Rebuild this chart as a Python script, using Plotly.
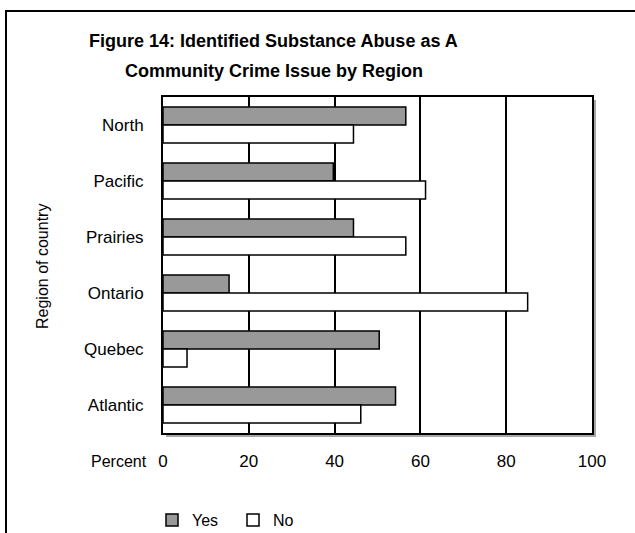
import plotly.graph_objects as go

# Survey results: share of respondents (percent) by region
regions = ["North", "Pacific", "Prairies", "Ontario", "Quebec", "Atlantic"]
yes_pct = [56.6, 39.7, 44.4, 15.4, 50.4, 54.2]
no_pct = [44.4, 61.2, 56.6, 85.0, 5.6, 46.1]
x_ticks = [0, 20, 40, 60, 80, 100]

title_lines = ["Figure 14: Identified Substance Abuse as A",
               "Community Crime Issue by Region"]

# Canvas and plot-area geometry (pixels)
W, H = 635, 533
L, R, T, B = 163, 43, 97, 100

FONT = "Liberation Sans, Arial, sans-serif"


def px_x(p):
    return (p - L) / (W - L - R)


def px_y(p):
    return (H - B - p) / (H - T - B)


fig = go.Figure()
fig.add_trace(go.Bar(
    name="Yes", y=regions, x=yes_pct, orientation="h",
    marker=dict(color="#999999", line=dict(color="black", width=1.5)),
))
fig.add_trace(go.Bar(
    name="No", y=regions, x=no_pct, orientation="h",
    marker=dict(color="white", line=dict(color="black", width=1.5)),
))

shapes = [
    # outer frame of the chart (top and left edges visible)
    dict(type="rect", xref="paper", yref="paper",
         x0=px_x(6), x1=px_x(720), y0=px_y(620), y1=px_y(11),
         line=dict(color="black", width=2), fillcolor="rgba(0,0,0,0)"),
    # drop shadow along the right and bottom edges of the plot area
    dict(type="rect", xref="paper", yref="paper", layer="below",
         x0=px_x(593), x1=px_x(596), y0=px_y(437), y1=px_y(100),
         line=dict(width=0), fillcolor="#a6a6a6"),
    dict(type="rect", xref="paper", yref="paper", layer="below",
         x0=px_x(166), x1=px_x(596), y0=px_y(437), y1=px_y(434),
         line=dict(width=0), fillcolor="#a6a6a6"),
]

annotations = [
    dict(text="<b>%s</b>" % title_lines[0], xref="paper", yref="paper",
         x=px_x(273.5), y=px_y(41), xanchor="center", yanchor="middle",
         showarrow=False, font=dict(family=FONT, size=18, color="black")),
    dict(text="<b>%s</b>" % title_lines[1], xref="paper", yref="paper",
         x=px_x(273.5), y=px_y(71), xanchor="center", yanchor="middle",
         showarrow=False, font=dict(family=FONT, size=18, color="black")),
    dict(text="Region of country", xref="paper", yref="paper",
         x=px_x(42), y=px_y(267), xanchor="center", yanchor="middle",
         textangle=-90, showarrow=False,
         font=dict(family=FONT, size=16, color="black")),
    dict(text="Percent", xref="paper", yref="paper",
         x=px_x(149), y=px_y(461), xanchor="right", yanchor="middle",
         showarrow=False, font=dict(family=FONT, size=16, color="black")),
]

fig.update_layout(
    width=W, height=H, autosize=False,
    margin=dict(l=L, r=R, t=T, b=B, pad=0, autoexpand=False),
    paper_bgcolor="white", plot_bgcolor="white",
    font=dict(family=FONT, size=16, color="black"),
    barmode="group", bargap=0.36, bargroupgap=0,
    showlegend=True,
    legend=dict(orientation="h", x=px_x(152), y=px_y(520),
                xanchor="left", yanchor="middle",
                font=dict(family=FONT, size=16, color="black"),
                entrywidth=36, bgcolor="rgba(0,0,0,0)"),
    shapes=shapes,
    annotations=annotations,
)

fig.update_xaxes(
    range=[0, 100], tickvals=x_ticks, ticktext=[str(v) for v in x_ticks],
    tickfont=dict(size=17),
    showgrid=True, gridcolor="black", gridwidth=1.5, zeroline=False,
    showline=True, mirror=True, linecolor="black", linewidth=2,
    ticks="", ticklabelstandoff=12, fixedrange=True,
)
fig.update_yaxes(
    categoryorder="array", categoryarray=regions,
    range=[len(regions) - 0.5, -0.5],
    tickfont=dict(size=17),
    showgrid=False, zeroline=False,
    showline=True, mirror=True, linecolor="black", linewidth=2,
    ticks="", ticklabelstandoff=14, fixedrange=True,
)

fig.write_html("out.html")
